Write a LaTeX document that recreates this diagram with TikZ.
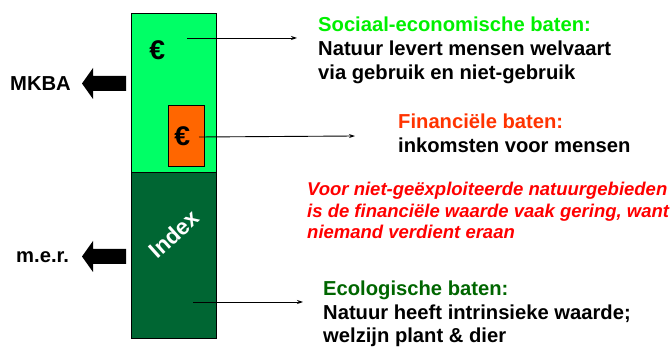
\documentclass[tikz,border=0pt]{standalone}
\usepackage{fontspec}
\setmainfont{Liberation Sans}
\usetikzlibrary{arrows.meta}
\definecolor{lgreen}{RGB}{0,255,102}
\definecolor{dgreen}{RGB}{0,102,51}
\definecolor{orangebox}{RGB}{255,102,0}
\definecolor{socgreen}{RGB}{0,240,0}
\definecolor{finred}{RGB}{255,51,0}
\definecolor{notered}{RGB}{255,0,0}
\definecolor{ecogreen}{RGB}{0,102,0}
\tikzset{
  txt/.style={anchor=base west, inner sep=0pt, font=\fontsize{20.2}{24}\selectfont\bfseries},
  redtxt/.style={anchor=base west, inner sep=0pt, font=\fontsize{18.5}{22}\selectfont\bfseries\itshape, text=notered},
  conn/.style={-{Stealth[length=6pt,width=4pt]}, line width=0.9pt},
  blockarrow/.style={fill=black},
  euro/.style={font=\fontsize{27}{30}\selectfont\bfseries, inner sep=0pt, xscale=1.05}
}
\begin{document}
\begin{tikzpicture}[x=1pt,y=-1pt]
\useasboundingbox (0,0) rectangle (670,347);
% bar
\node[draw=black, line width=0.6pt, fill=lgreen, minimum width=85pt, minimum height=159pt, inner sep=0pt, anchor=north west] (top) at (131,13) {};
\node[draw=black, line width=0.6pt, fill=dgreen, minimum width=85pt, minimum height=166pt, inner sep=0pt, anchor=north west] (bottom) at (131,172) {};
\node[draw=black, line width=0.6pt, fill=orangebox, minimum width=36pt, minimum height=61pt, inner sep=0pt, anchor=north west] (fin) at (168,105) {};
\node[euro] (euro1) at (157.3,50.5) {€};
\node[euro] (euro2) at (182.3,136) {€};
\node[font=\fontsize{22.5}{26}\selectfont\bfseries, text=white, rotate=42, inner sep=0pt] (index) at (174,234) {Index};
% block arrows
\fill[blockarrow] (126,76) -- (93,76) -- (93,68) -- (82,83.5) -- (93,99) -- (93,91) -- (126,91) -- cycle;
\fill[blockarrow] (126,249) -- (93,249) -- (93,241) -- (82,256.5) -- (93,272) -- (93,264) -- (126,264) -- cycle;
\node[txt] (mkba) at (10,90.5) {MKBA};
\node[txt] (mer) at (16,263) {m.e.r.};
% texts right
\node[txt, text=socgreen] (soc1) at (318,32) {Sociaal-economische baten:};
\node[txt] (soc2) at (318,56) {Natuur levert mensen welvaart};
\node[txt] (soc3) at (318,80) {via gebruik en niet-gebruik};
\node[txt, text=finred] (fin1) at (398,129) {Financiële baten:};
\node[txt] (fin2) at (398,153) {inkomsten voor mensen};
\node[redtxt] (red1) at (307,196) {Voor niet-geëxploiteerde natuurgebieden};
\node[redtxt] (red2) at (307,217.5) {is de financiële waarde vaak gering, want};
\node[redtxt] (red3) at (307,239) {niemand verdient eraan};
\node[txt, text=ecogreen] (eco1) at (323,296) {Ecologische baten:};
\node[txt] (eco2) at (323,320) {Natuur heeft intrinsieke waarde;};
\node[txt] (eco3) at (323,343) {welzijn plant \& dier};
% connectors
\coordinate (s1) at (187,38);
\coordinate (e1) at (297,38);
\coordinate (s2) at (199,137);
\coordinate (e2) at (355,136);
\coordinate (s3) at (193,302);
\coordinate (e3) at (303,302);
\draw[conn] (s1) -- (e1);
\draw[conn] (s2) -- (e2);
\draw[conn] (s3) -- (e3);
\end{tikzpicture}
\end{document}
